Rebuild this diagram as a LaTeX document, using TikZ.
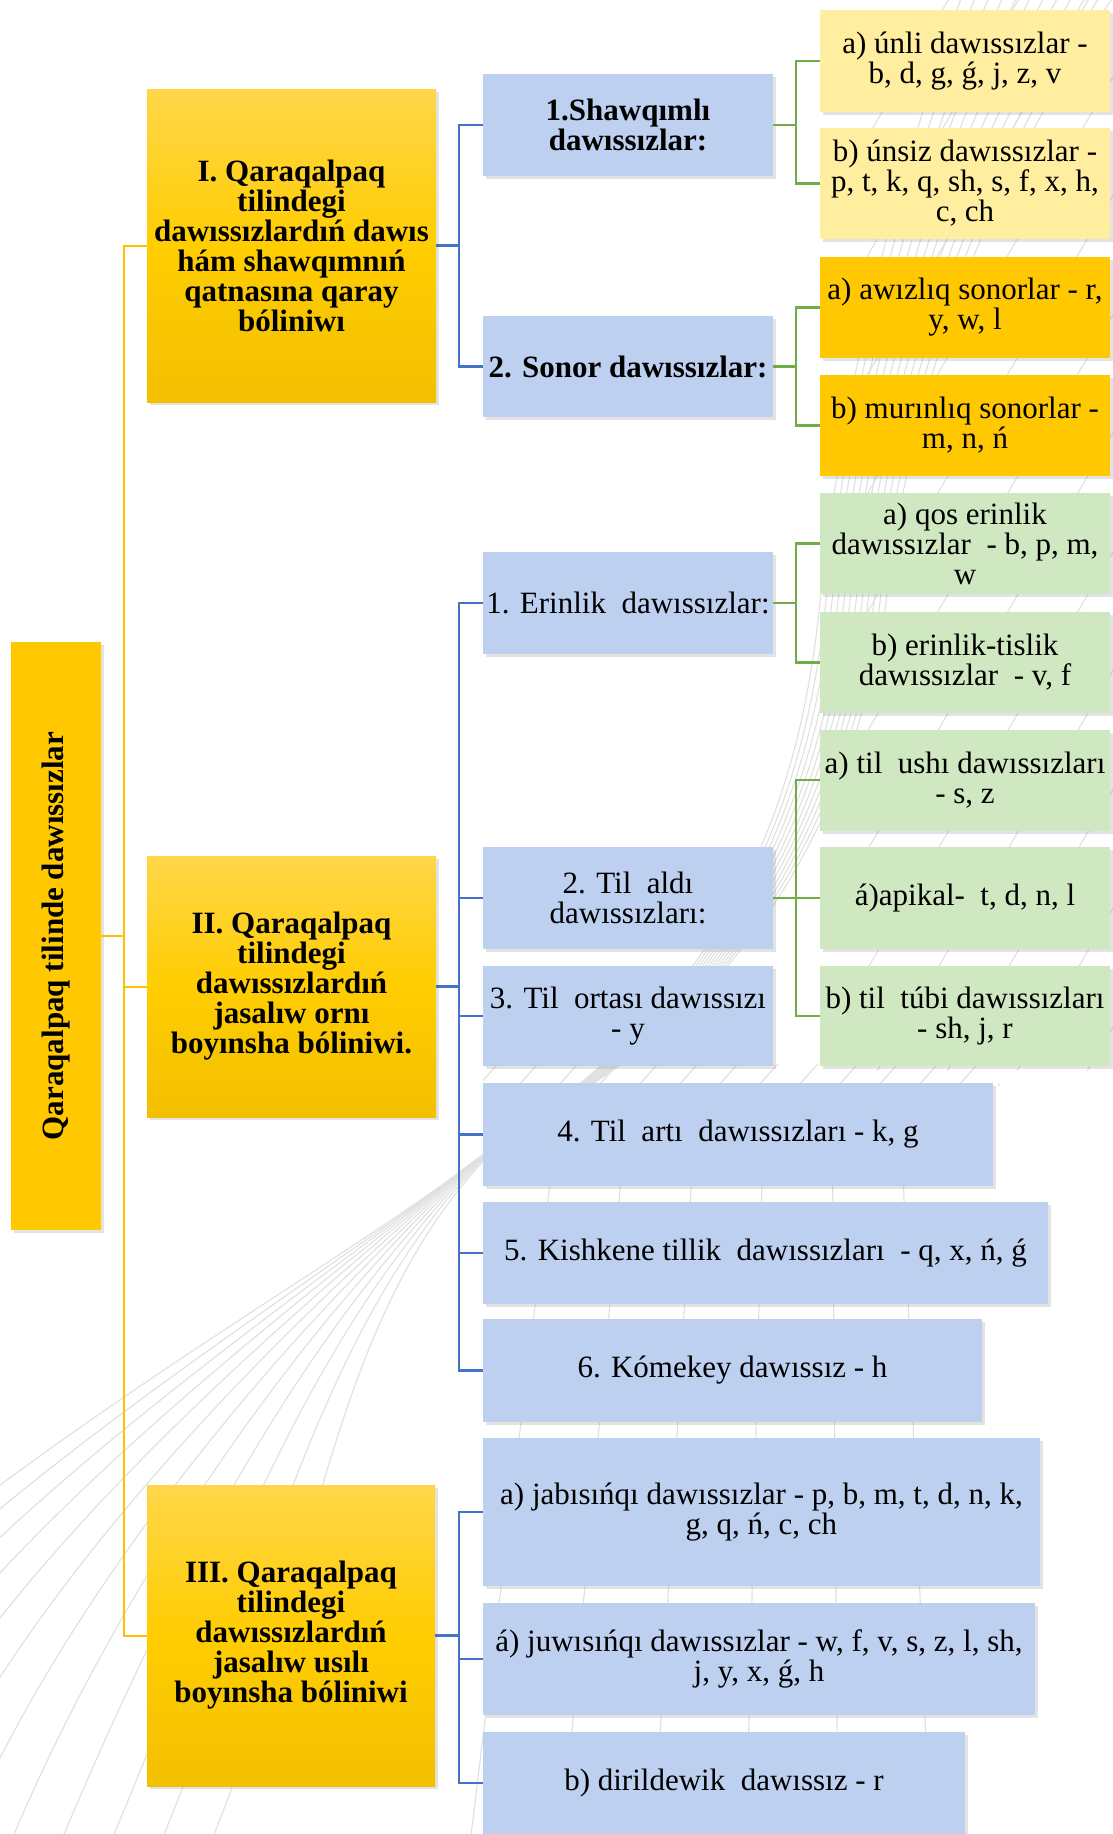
\documentclass[tikz,border=0pt]{standalone}
\usepackage{fontspec}
\setmainfont{Liberation Serif}
\usetikzlibrary{shadows}
\definecolor{ytop}{RGB}{255,214,74}
\definecolor{ymid}{RGB}{255,205,0}
\definecolor{ybot}{RGB}{242,192,0}
\definecolor{rootc}{RGB}{255,200,0}
\definecolor{orng}{RGB}{255,200,0}
\definecolor{lyel}{RGB}{255,237,160}
\definecolor{lblue}{RGB}{189,208,240}
\definecolor{lgreen}{RGB}{208,232,193}
\definecolor{cyel}{RGB}{255,192,0}
\definecolor{cblue}{RGB}{68,114,196}
\definecolor{cgreen}{RGB}{112,173,71}
\definecolor{bgline}{RGB}{224,224,224}
\begin{document}
\begin{tikzpicture}[x=1pt,y=-1pt,
  wh/.style 2 args={minimum width=#1pt,minimum height=#2pt},
  box/.style={inner sep=2pt,outer sep=0pt,align=center,
    font=\fontsize{31}{30}\selectfont,
    drop shadow={shadow xshift=3pt,shadow yshift=-3pt,opacity=0.22}},
  ybox/.style={box,top color=ytop,bottom color=ybot,middle color=ymid,
    font=\fontsize{31}{30}\selectfont\bfseries},
  rootbox/.style={box,fill=rootc},
  bluebox/.style={box,fill=lblue},
  bluebold/.style={box,fill=lblue,font=\fontsize{31}{30}\selectfont\bfseries},
  lyelbox/.style={box,fill=lyel},
  orbox/.style={box,fill=orng},
  grbox/.style={box,fill=lgreen},
  yconn/.style={draw=cyel,line width=2pt},
  bconn/.style={draw=cblue,line width=2.5pt},
  gconn/.style={draw=cgreen,line width=2.5pt},
  bg/.style={draw=bgline,line width=1.1pt}
]
\useasboundingbox (0,0) rectangle (1113,1834);
\fill[white] (0,0) rectangle (1113,1834);
% decorative background lines
\begin{scope}
\clip (0,0) rectangle (1113,1834);
\foreach \sx [count=\i] in {-340,-290,-240,-190,-140,-90,-40,10,60,110,160,210}{
  \draw[bg] (\sx,1844) .. controls (\sx+110,1580) and (290+3*\i,1300) .. (465+4*\i,1168-3*\i)
     .. controls (640+2*\i,1050) and (780+4*\i,920) .. (812+6*\i,620)
     .. controls (835+6*\i,400) and (880+8*\i,200) .. (950+14*\i,-10);
}
\foreach \k in {0,...,5}{
  \draw[bg] (470+92*\k,1844) -- (560+68*\k,1100);
}
\end{scope}
\begin{scope}
\clip (820,0) rectangle (1113,1070);
\foreach \k in {0,...,12}{
  \draw[bg] (300+70*\k,1100) -- ++(660,-1120);
}
\end{scope}
\begin{scope}
\clip (483,1064) rectangle (1000,1085);
\foreach \k in {0,...,13}{
  \draw[bg] (470+40*\k,1095) -- ++(36,-40);
}
\end{scope}
% root
\node[rootbox,wh={90.5}{588}] (root) at (55.75,936) {};
\node[rotate=90,font=\fontsize{31}{30}\selectfont\bfseries] (roottxt) at (root.center) {Qaraqalpaq tilinde dawıssızlar};
% level 1
\node[ybox,wh={289}{313}] (b1) at (291.5,245.5) {I. Qaraqalpaq\\tilindegi\\dawıssızlardıń dawıs\\hám shawqımnıń\\qatnasına qaray\\bóliniwı};
\node[ybox,wh={289}{261}] (b2) at (291.5,986.5) {II. Qaraqalpaq\\tilindegi\\dawıssızlardıń\\jasalıw ornı\\boyınsha bóliniwi.};
\node[ybox,wh={288}{301}] (b3) at (291,1635.5) {III. Qaraqalpaq\\tilindegi\\dawıssızlardıń\\jasalıw usılı\\boyınsha bóliniwi};
% level 2 (I)
\node[bluebold,wh={290}{102}] (s1) at (628,125) {1.Shawqımlı\\dawıssızlar:};
\node[bluebold,wh={290}{101}] (s2) at (628,366.5) {2. Sonor dawıssızlar:};
\node[lyelbox,wh={290}{102}] (l1) at (965,61) {a) únli dawıssızlar -\\b, d, g, ǵ, j, z, v};
\node[lyelbox,wh={290}{111}] (l2) at (965,183.5) {b) únsiz dawıssızlar -\\p, t, k, q, sh, s, f, x, h,\\c, ch};
\node[orbox,wh={290}{101}] (l3) at (965,307.5) {a) awızlıq sonorlar - r,\\y, w, l};
\node[orbox,wh={290}{101}] (l4) at (965,425.5) {b) murınlıq sonorlar -\\m, n, ń};
% level 2 (II)
\node[bluebox,wh={290}{102}] (e1) at (628,603) {1. Erinlik\ \ dawıssızlar:};
\node[bluebox,wh={290}{102}] (e2) at (628,898) {2. Til\ \ aldı\\dawıssızları:};
\node[bluebox,wh={290}{100}] (e3) at (628,1016) {3. Til\ \ ortası dawıssızı\\- y};
\node[bluebox,wh={510}{103}] (e4) at (738,1134.5) {4. Til\ \ artı\ \ dawıssızları - k, g};
\node[bluebox,wh={565}{102}] (e5) at (765.5,1253) {5. Kishkene tillik\ \ dawıssızları\ \ - q, x, ń, ǵ};
\node[bluebox,wh={499}{103}] (e6) at (732.5,1370.5) {6. Kómekey dawıssız - h};
\node[grbox,wh={290}{101}] (g1) at (965,543.5) {a) qos erinlik\\dawıssızlar\ \ - b, p, m,\\w};
\node[grbox,wh={290}{101}] (g2) at (965,662.5) {b) erinlik-tislik\\dawıssızlar\ \ - v, f};
\node[grbox,wh={290}{101}] (g3) at (965,780) {a) til\ \ ushı dawıssızları\\- s, z};
\node[grbox,wh={290}{102}] (g4) at (965,898) {á)apikal-\ \ t, d, n, l};
\node[grbox,wh={290}{100}] (g5) at (965,1016) {b) til\ \ túbi dawıssızları\\- sh, j, r};
% level 2 (III)
\node[bluebox,wh={557}{148}] (t1) at (761.5,1512) {a) jabısıńqı dawıssızlar - p, b, m, t, d, n, k,\\g, q, ń, c, ch};
\node[bluebox,wh={552}{112}] (t2) at (759,1659) {á) juwısıńqı dawıssızlar - w, f, v, s, z, l, sh,\\j, y, x, ǵ, h};
\node[bluebox,wh={482}{102}] (t3) at (724,1783) {b) dirildewik\ \ dawıssız - r};
% trunks
\coordinate (yt) at (124,0);
\coordinate (bt) at (459,0);
\coordinate (gt) at (796,0);
% yellow connectors
\draw[yconn] (root.east) -- (root.east -| yt);
\draw[yconn] (b1.west) -- (b1.west -| yt) -- (b3.west -| yt) -- (b3.west);
\draw[yconn] (b2.west) -- (b2.west -| yt);
% blue connectors
\foreach \c in {s1,s2}{\draw[bconn] (b1.east) -- (b1.east -| bt) |- (\c.west);}
\foreach \c in {e1,e2,e3,e4,e5,e6}{\draw[bconn] (b2.east) -- (b2.east -| bt) |- (\c.west);}
\foreach \c in {t1,t2,t3}{\draw[bconn] (b3.east) -- (b3.east -| bt) |- (\c.west);}
% green connectors
\foreach \c in {l1,l2}{\draw[gconn] (s1.east) -- (s1.east -| gt) |- (\c.west);}
\foreach \c in {l3,l4}{\draw[gconn] (s2.east) -- (s2.east -| gt) |- (\c.west);}
\foreach \c in {g1,g2}{\draw[gconn] (e1.east) -- (e1.east -| gt) |- (\c.west);}
\foreach \c in {g3,g4,g5}{\draw[gconn] (e2.east) -- (e2.east -| gt) |- (\c.west);}
\end{tikzpicture}
\end{document}
